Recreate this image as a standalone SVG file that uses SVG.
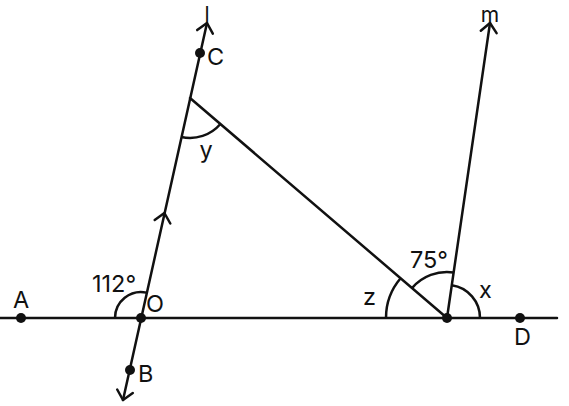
<svg xmlns="http://www.w3.org/2000/svg" width="569" height="406" viewBox="0 0 569 406">
<style>
.ln{stroke:#111;stroke-width:2.5;fill:none;stroke-linecap:round;stroke-linejoin:round}
.arc{stroke:#111;stroke-width:2.5;fill:none}
.dot{fill:#111}
text{font-family:Inter,"Noto Sans","Liberation Sans",sans-serif;font-size:23.5px;fill:#111}
.top{font-size:21px}
</style>
<rect width="569" height="406" fill="#fff"/>
<g id="connectors">
<line class="ln" x1="0" y1="318" x2="557" y2="318"/>
<line class="ln" x1="123" y1="400" x2="207" y2="23"/>
<polyline class="ln" points="197.2,30.1 207,23 212.8,33.6"/>
<polyline class="ln" points="117.2,389.5 123,400 132.8,393"/>
<polyline class="ln" points="154.7,220 164.4,213 170.3,223.5"/>
<line class="ln" x1="190" y1="98" x2="447" y2="318"/>
<line class="ln" x1="447" y1="318" x2="490" y2="23"/>
<polyline class="ln" points="480.8,30.7 490,23 496.6,33.1"/>
</g>
<g id="angles">
<path class="arc" d="M115,318 A26,26 0 0 1 146.6,292.6"/>
<path class="arc" d="M181.3,137 A40,40 0 0 0 220.4,124"/>
<path class="arc" d="M386,318 A61,61 0 0 1 400.6,278.3"/>
<path class="arc" d="M412,288.1 A46,46 0 0 1 453.6,272.5"/>
<path class="arc" d="M451.8,285.3 A33,33 0 0 1 480,318"/>
</g>
<g id="A"><circle class="dot" cx="21" cy="318" r="5"/><text x="13" y="308">A</text></g>
<g id="O"><circle class="dot" cx="141" cy="318" r="5"/><text x="146" y="312">O</text></g>
<g id="P"><circle class="dot" cx="447" cy="318" r="5"/></g>
<g id="D"><circle class="dot" cx="520" cy="318" r="5"/><text x="514" y="345">D</text></g>
<g id="C"><circle class="dot" cx="200" cy="53" r="5"/><text x="207" y="65">C</text></g>
<g id="B"><circle class="dot" cx="130" cy="370" r="5"/><text x="138" y="382">B</text></g>
<g id="labels">
<text class="top" x="207" y="21.5" text-anchor="middle">l</text>
<text class="top" x="490" y="21.5" text-anchor="middle">m</text>
<text x="206" y="158" text-anchor="middle">y</text>
<text x="92" y="292">112°</text>
<text x="410" y="268">75°</text>
<text x="363" y="305">z</text>
<text x="479" y="298">x</text>
</g>
</svg>
